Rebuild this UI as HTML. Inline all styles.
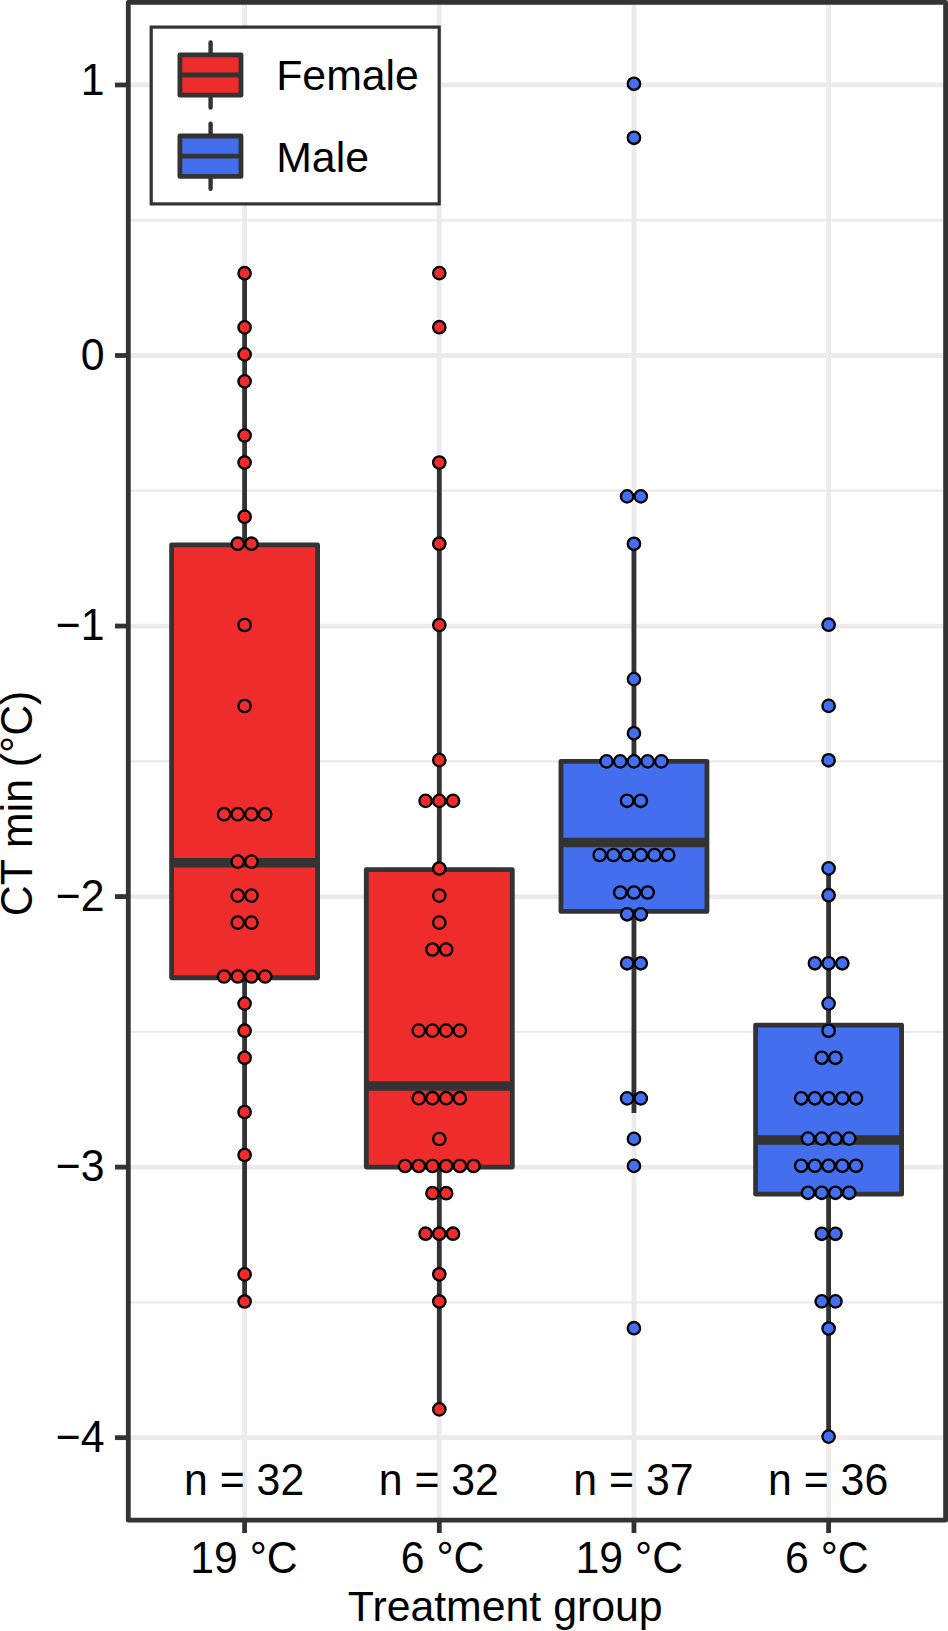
<!DOCTYPE html><html><head><meta charset="utf-8"><style>html,body{margin:0;padding:0;background:#fff;}svg{display:block;}text{font-family:"Liberation Sans",Arial,sans-serif;fill:#000;}</style></head><body>
<svg width="948" height="1631" viewBox="0 0 948 1631">
<rect x="0" y="0" width="948" height="1631" fill="#fff"/>
<line x1="128.3" x2="945.6" y1="220.23" y2="220.23" stroke="#EBEBEB" stroke-width="2.4"/>
<line x1="128.3" x2="945.6" y1="490.77" y2="490.77" stroke="#EBEBEB" stroke-width="2.4"/>
<line x1="128.3" x2="945.6" y1="761.31" y2="761.31" stroke="#EBEBEB" stroke-width="2.4"/>
<line x1="128.3" x2="945.6" y1="1031.85" y2="1031.85" stroke="#EBEBEB" stroke-width="2.4"/>
<line x1="128.3" x2="945.6" y1="1302.39" y2="1302.39" stroke="#EBEBEB" stroke-width="2.4"/>
<line x1="128.3" x2="945.6" y1="84.96" y2="84.96" stroke="#EBEBEB" stroke-width="4.8"/>
<line x1="128.3" x2="945.6" y1="355.50" y2="355.50" stroke="#EBEBEB" stroke-width="4.8"/>
<line x1="128.3" x2="945.6" y1="626.04" y2="626.04" stroke="#EBEBEB" stroke-width="4.8"/>
<line x1="128.3" x2="945.6" y1="896.58" y2="896.58" stroke="#EBEBEB" stroke-width="4.8"/>
<line x1="128.3" x2="945.6" y1="1167.12" y2="1167.12" stroke="#EBEBEB" stroke-width="4.8"/>
<line x1="128.3" x2="945.6" y1="1437.66" y2="1437.66" stroke="#EBEBEB" stroke-width="4.8"/>
<line x1="244.6" x2="244.6" y1="2.4" y2="1520.2" stroke="#EBEBEB" stroke-width="4.8"/>
<line x1="439.3" x2="439.3" y1="2.4" y2="1520.2" stroke="#EBEBEB" stroke-width="4.8"/>
<line x1="633.95" x2="633.95" y1="2.4" y2="1520.2" stroke="#EBEBEB" stroke-width="4.8"/>
<line x1="828.6" x2="828.6" y1="2.4" y2="1520.2" stroke="#EBEBEB" stroke-width="4.8"/>
<line x1="244.6" x2="244.6" y1="274.34" y2="544.88" stroke="#333333" stroke-width="4.8"/>
<line x1="244.6" x2="244.6" y1="977.74" y2="1302.39" stroke="#333333" stroke-width="4.8"/>
<rect x="171.60" y="544.88" width="146.00" height="432.86" fill="#EE2C2C" stroke="#333333" stroke-width="4.8" stroke-linejoin="round"/>
<line x1="171.60" x2="317.60" y1="862.76" y2="862.76" stroke="#333333" stroke-width="9.6"/>
<line x1="439.3" x2="439.3" y1="463.72" y2="869.53" stroke="#333333" stroke-width="4.8"/>
<line x1="439.3" x2="439.3" y1="1167.12" y2="1410.61" stroke="#333333" stroke-width="4.8"/>
<rect x="366.30" y="869.53" width="146.00" height="297.59" fill="#EE2C2C" stroke="#333333" stroke-width="4.8" stroke-linejoin="round"/>
<line x1="366.30" x2="512.30" y1="1085.96" y2="1085.96" stroke="#333333" stroke-width="9.6"/>
<line x1="633.95" x2="633.95" y1="544.88" y2="761.31" stroke="#333333" stroke-width="4.8"/>
<line x1="633.95" x2="633.95" y1="911.46" y2="1113.01" stroke="#333333" stroke-width="4.8"/>
<rect x="560.95" y="761.31" width="146.00" height="150.15" fill="#436EEE" stroke="#333333" stroke-width="4.8" stroke-linejoin="round"/>
<line x1="560.95" x2="706.95" y1="842.47" y2="842.47" stroke="#333333" stroke-width="9.6"/>
<line x1="828.6" x2="828.6" y1="869.53" y2="1025.09" stroke="#333333" stroke-width="4.8"/>
<line x1="828.6" x2="828.6" y1="1194.17" y2="1437.66" stroke="#333333" stroke-width="4.8"/>
<rect x="755.60" y="1025.09" width="146.00" height="169.09" fill="#436EEE" stroke="#333333" stroke-width="4.8" stroke-linejoin="round"/>
<line x1="755.60" x2="901.60" y1="1140.07" y2="1140.07" stroke="#333333" stroke-width="9.6"/>
<circle cx="244.60" cy="273.20" r="6.2" fill="#EE2C2C" stroke="#000" stroke-width="2.3"/>
<circle cx="244.60" cy="327.40" r="6.2" fill="#EE2C2C" stroke="#000" stroke-width="2.3"/>
<circle cx="244.60" cy="354.40" r="6.2" fill="#EE2C2C" stroke="#000" stroke-width="2.3"/>
<circle cx="244.60" cy="381.40" r="6.2" fill="#EE2C2C" stroke="#000" stroke-width="2.3"/>
<circle cx="244.60" cy="435.50" r="6.2" fill="#EE2C2C" stroke="#000" stroke-width="2.3"/>
<circle cx="244.60" cy="462.50" r="6.2" fill="#EE2C2C" stroke="#000" stroke-width="2.3"/>
<circle cx="244.60" cy="516.70" r="6.2" fill="#EE2C2C" stroke="#000" stroke-width="2.3"/>
<circle cx="237.75" cy="543.70" r="6.2" fill="#EE2C2C" stroke="#000" stroke-width="2.3"/>
<circle cx="251.45" cy="543.70" r="6.2" fill="#EE2C2C" stroke="#000" stroke-width="2.3"/>
<circle cx="244.60" cy="625.00" r="6.2" fill="#EE2C2C" stroke="#000" stroke-width="2.3"/>
<circle cx="244.60" cy="706.00" r="6.2" fill="#EE2C2C" stroke="#000" stroke-width="2.3"/>
<circle cx="224.05" cy="814.20" r="6.2" fill="#EE2C2C" stroke="#000" stroke-width="2.3"/>
<circle cx="237.75" cy="814.20" r="6.2" fill="#EE2C2C" stroke="#000" stroke-width="2.3"/>
<circle cx="251.45" cy="814.20" r="6.2" fill="#EE2C2C" stroke="#000" stroke-width="2.3"/>
<circle cx="265.15" cy="814.20" r="6.2" fill="#EE2C2C" stroke="#000" stroke-width="2.3"/>
<circle cx="237.75" cy="861.60" r="6.2" fill="#EE2C2C" stroke="#000" stroke-width="2.3"/>
<circle cx="251.45" cy="861.60" r="6.2" fill="#EE2C2C" stroke="#000" stroke-width="2.3"/>
<circle cx="237.75" cy="895.60" r="6.2" fill="#EE2C2C" stroke="#000" stroke-width="2.3"/>
<circle cx="251.45" cy="895.60" r="6.2" fill="#EE2C2C" stroke="#000" stroke-width="2.3"/>
<circle cx="237.75" cy="922.60" r="6.2" fill="#EE2C2C" stroke="#000" stroke-width="2.3"/>
<circle cx="251.45" cy="922.60" r="6.2" fill="#EE2C2C" stroke="#000" stroke-width="2.3"/>
<circle cx="224.05" cy="976.50" r="6.2" fill="#EE2C2C" stroke="#000" stroke-width="2.3"/>
<circle cx="237.75" cy="976.50" r="6.2" fill="#EE2C2C" stroke="#000" stroke-width="2.3"/>
<circle cx="251.45" cy="976.50" r="6.2" fill="#EE2C2C" stroke="#000" stroke-width="2.3"/>
<circle cx="265.15" cy="976.50" r="6.2" fill="#EE2C2C" stroke="#000" stroke-width="2.3"/>
<circle cx="244.60" cy="1003.60" r="6.2" fill="#EE2C2C" stroke="#000" stroke-width="2.3"/>
<circle cx="244.60" cy="1030.70" r="6.2" fill="#EE2C2C" stroke="#000" stroke-width="2.3"/>
<circle cx="244.60" cy="1057.80" r="6.2" fill="#EE2C2C" stroke="#000" stroke-width="2.3"/>
<circle cx="244.60" cy="1112.00" r="6.2" fill="#EE2C2C" stroke="#000" stroke-width="2.3"/>
<circle cx="244.60" cy="1155.00" r="6.2" fill="#EE2C2C" stroke="#000" stroke-width="2.3"/>
<circle cx="244.60" cy="1274.40" r="6.2" fill="#EE2C2C" stroke="#000" stroke-width="2.3"/>
<circle cx="244.60" cy="1301.50" r="6.2" fill="#EE2C2C" stroke="#000" stroke-width="2.3"/>
<circle cx="439.30" cy="273.10" r="6.2" fill="#EE2C2C" stroke="#000" stroke-width="2.3"/>
<circle cx="439.30" cy="327.20" r="6.2" fill="#EE2C2C" stroke="#000" stroke-width="2.3"/>
<circle cx="439.30" cy="462.50" r="6.2" fill="#EE2C2C" stroke="#000" stroke-width="2.3"/>
<circle cx="439.30" cy="543.70" r="6.2" fill="#EE2C2C" stroke="#000" stroke-width="2.3"/>
<circle cx="439.30" cy="625.00" r="6.2" fill="#EE2C2C" stroke="#000" stroke-width="2.3"/>
<circle cx="439.30" cy="760.10" r="6.2" fill="#EE2C2C" stroke="#000" stroke-width="2.3"/>
<circle cx="425.60" cy="800.90" r="6.2" fill="#EE2C2C" stroke="#000" stroke-width="2.3"/>
<circle cx="439.30" cy="800.90" r="6.2" fill="#EE2C2C" stroke="#000" stroke-width="2.3"/>
<circle cx="453.00" cy="800.90" r="6.2" fill="#EE2C2C" stroke="#000" stroke-width="2.3"/>
<circle cx="439.30" cy="868.50" r="6.2" fill="#EE2C2C" stroke="#000" stroke-width="2.3"/>
<circle cx="439.30" cy="895.60" r="6.2" fill="#EE2C2C" stroke="#000" stroke-width="2.3"/>
<circle cx="439.30" cy="922.60" r="6.2" fill="#EE2C2C" stroke="#000" stroke-width="2.3"/>
<circle cx="432.45" cy="949.50" r="6.2" fill="#EE2C2C" stroke="#000" stroke-width="2.3"/>
<circle cx="446.15" cy="949.50" r="6.2" fill="#EE2C2C" stroke="#000" stroke-width="2.3"/>
<circle cx="418.75" cy="1030.60" r="6.2" fill="#EE2C2C" stroke="#000" stroke-width="2.3"/>
<circle cx="432.45" cy="1030.60" r="6.2" fill="#EE2C2C" stroke="#000" stroke-width="2.3"/>
<circle cx="446.15" cy="1030.60" r="6.2" fill="#EE2C2C" stroke="#000" stroke-width="2.3"/>
<circle cx="459.85" cy="1030.60" r="6.2" fill="#EE2C2C" stroke="#000" stroke-width="2.3"/>
<circle cx="418.75" cy="1098.20" r="6.2" fill="#EE2C2C" stroke="#000" stroke-width="2.3"/>
<circle cx="432.45" cy="1098.20" r="6.2" fill="#EE2C2C" stroke="#000" stroke-width="2.3"/>
<circle cx="446.15" cy="1098.20" r="6.2" fill="#EE2C2C" stroke="#000" stroke-width="2.3"/>
<circle cx="459.85" cy="1098.20" r="6.2" fill="#EE2C2C" stroke="#000" stroke-width="2.3"/>
<circle cx="439.30" cy="1139.00" r="6.2" fill="#EE2C2C" stroke="#000" stroke-width="2.3"/>
<circle cx="405.05" cy="1166.00" r="6.2" fill="#EE2C2C" stroke="#000" stroke-width="2.3"/>
<circle cx="418.75" cy="1166.00" r="6.2" fill="#EE2C2C" stroke="#000" stroke-width="2.3"/>
<circle cx="432.45" cy="1166.00" r="6.2" fill="#EE2C2C" stroke="#000" stroke-width="2.3"/>
<circle cx="446.15" cy="1166.00" r="6.2" fill="#EE2C2C" stroke="#000" stroke-width="2.3"/>
<circle cx="459.85" cy="1166.00" r="6.2" fill="#EE2C2C" stroke="#000" stroke-width="2.3"/>
<circle cx="473.55" cy="1166.00" r="6.2" fill="#EE2C2C" stroke="#000" stroke-width="2.3"/>
<circle cx="432.45" cy="1193.20" r="6.2" fill="#EE2C2C" stroke="#000" stroke-width="2.3"/>
<circle cx="446.15" cy="1193.20" r="6.2" fill="#EE2C2C" stroke="#000" stroke-width="2.3"/>
<circle cx="425.60" cy="1233.70" r="6.2" fill="#EE2C2C" stroke="#000" stroke-width="2.3"/>
<circle cx="439.30" cy="1233.70" r="6.2" fill="#EE2C2C" stroke="#000" stroke-width="2.3"/>
<circle cx="453.00" cy="1233.70" r="6.2" fill="#EE2C2C" stroke="#000" stroke-width="2.3"/>
<circle cx="439.30" cy="1274.30" r="6.2" fill="#EE2C2C" stroke="#000" stroke-width="2.3"/>
<circle cx="439.30" cy="1301.50" r="6.2" fill="#EE2C2C" stroke="#000" stroke-width="2.3"/>
<circle cx="439.30" cy="1409.40" r="6.2" fill="#EE2C2C" stroke="#000" stroke-width="2.3"/>
<circle cx="633.95" cy="83.80" r="6.2" fill="#436EEE" stroke="#000" stroke-width="2.3"/>
<circle cx="633.95" cy="137.80" r="6.2" fill="#436EEE" stroke="#000" stroke-width="2.3"/>
<circle cx="627.10" cy="496.40" r="6.2" fill="#436EEE" stroke="#000" stroke-width="2.3"/>
<circle cx="640.80" cy="496.40" r="6.2" fill="#436EEE" stroke="#000" stroke-width="2.3"/>
<circle cx="633.95" cy="543.80" r="6.2" fill="#436EEE" stroke="#000" stroke-width="2.3"/>
<circle cx="633.95" cy="679.10" r="6.2" fill="#436EEE" stroke="#000" stroke-width="2.3"/>
<circle cx="633.95" cy="733.30" r="6.2" fill="#436EEE" stroke="#000" stroke-width="2.3"/>
<circle cx="606.55" cy="761.40" r="6.2" fill="#436EEE" stroke="#000" stroke-width="2.3"/>
<circle cx="620.25" cy="761.40" r="6.2" fill="#436EEE" stroke="#000" stroke-width="2.3"/>
<circle cx="633.95" cy="761.40" r="6.2" fill="#436EEE" stroke="#000" stroke-width="2.3"/>
<circle cx="647.65" cy="761.40" r="6.2" fill="#436EEE" stroke="#000" stroke-width="2.3"/>
<circle cx="661.35" cy="761.40" r="6.2" fill="#436EEE" stroke="#000" stroke-width="2.3"/>
<circle cx="627.10" cy="800.80" r="6.2" fill="#436EEE" stroke="#000" stroke-width="2.3"/>
<circle cx="640.80" cy="800.80" r="6.2" fill="#436EEE" stroke="#000" stroke-width="2.3"/>
<circle cx="599.70" cy="855.00" r="6.2" fill="#436EEE" stroke="#000" stroke-width="2.3"/>
<circle cx="613.40" cy="855.00" r="6.2" fill="#436EEE" stroke="#000" stroke-width="2.3"/>
<circle cx="627.10" cy="855.00" r="6.2" fill="#436EEE" stroke="#000" stroke-width="2.3"/>
<circle cx="640.80" cy="855.00" r="6.2" fill="#436EEE" stroke="#000" stroke-width="2.3"/>
<circle cx="654.50" cy="855.00" r="6.2" fill="#436EEE" stroke="#000" stroke-width="2.3"/>
<circle cx="668.20" cy="855.00" r="6.2" fill="#436EEE" stroke="#000" stroke-width="2.3"/>
<circle cx="620.25" cy="892.50" r="6.2" fill="#436EEE" stroke="#000" stroke-width="2.3"/>
<circle cx="633.95" cy="892.50" r="6.2" fill="#436EEE" stroke="#000" stroke-width="2.3"/>
<circle cx="647.65" cy="892.50" r="6.2" fill="#436EEE" stroke="#000" stroke-width="2.3"/>
<circle cx="627.10" cy="914.30" r="6.2" fill="#436EEE" stroke="#000" stroke-width="2.3"/>
<circle cx="640.80" cy="914.30" r="6.2" fill="#436EEE" stroke="#000" stroke-width="2.3"/>
<circle cx="627.10" cy="963.30" r="6.2" fill="#436EEE" stroke="#000" stroke-width="2.3"/>
<circle cx="640.80" cy="963.30" r="6.2" fill="#436EEE" stroke="#000" stroke-width="2.3"/>
<circle cx="627.10" cy="1098.40" r="6.2" fill="#436EEE" stroke="#000" stroke-width="2.3"/>
<circle cx="640.80" cy="1098.40" r="6.2" fill="#436EEE" stroke="#000" stroke-width="2.3"/>
<circle cx="633.95" cy="1138.90" r="6.2" fill="#436EEE" stroke="#000" stroke-width="2.3"/>
<circle cx="633.95" cy="1165.90" r="6.2" fill="#436EEE" stroke="#000" stroke-width="2.3"/>
<circle cx="633.95" cy="1328.20" r="6.2" fill="#436EEE" stroke="#000" stroke-width="2.3"/>
<circle cx="828.60" cy="624.70" r="6.2" fill="#436EEE" stroke="#000" stroke-width="2.3"/>
<circle cx="828.60" cy="705.90" r="6.2" fill="#436EEE" stroke="#000" stroke-width="2.3"/>
<circle cx="828.60" cy="760.30" r="6.2" fill="#436EEE" stroke="#000" stroke-width="2.3"/>
<circle cx="828.60" cy="868.40" r="6.2" fill="#436EEE" stroke="#000" stroke-width="2.3"/>
<circle cx="828.60" cy="895.20" r="6.2" fill="#436EEE" stroke="#000" stroke-width="2.3"/>
<circle cx="814.90" cy="963.30" r="6.2" fill="#436EEE" stroke="#000" stroke-width="2.3"/>
<circle cx="828.60" cy="963.30" r="6.2" fill="#436EEE" stroke="#000" stroke-width="2.3"/>
<circle cx="842.30" cy="963.30" r="6.2" fill="#436EEE" stroke="#000" stroke-width="2.3"/>
<circle cx="828.60" cy="1003.60" r="6.2" fill="#436EEE" stroke="#000" stroke-width="2.3"/>
<circle cx="828.60" cy="1030.80" r="6.2" fill="#436EEE" stroke="#000" stroke-width="2.3"/>
<circle cx="821.75" cy="1057.80" r="6.2" fill="#436EEE" stroke="#000" stroke-width="2.3"/>
<circle cx="835.45" cy="1057.80" r="6.2" fill="#436EEE" stroke="#000" stroke-width="2.3"/>
<circle cx="801.20" cy="1098.30" r="6.2" fill="#436EEE" stroke="#000" stroke-width="2.3"/>
<circle cx="814.90" cy="1098.30" r="6.2" fill="#436EEE" stroke="#000" stroke-width="2.3"/>
<circle cx="828.60" cy="1098.30" r="6.2" fill="#436EEE" stroke="#000" stroke-width="2.3"/>
<circle cx="842.30" cy="1098.30" r="6.2" fill="#436EEE" stroke="#000" stroke-width="2.3"/>
<circle cx="856.00" cy="1098.30" r="6.2" fill="#436EEE" stroke="#000" stroke-width="2.3"/>
<circle cx="808.05" cy="1138.60" r="6.2" fill="#436EEE" stroke="#000" stroke-width="2.3"/>
<circle cx="821.75" cy="1138.60" r="6.2" fill="#436EEE" stroke="#000" stroke-width="2.3"/>
<circle cx="835.45" cy="1138.60" r="6.2" fill="#436EEE" stroke="#000" stroke-width="2.3"/>
<circle cx="849.15" cy="1138.60" r="6.2" fill="#436EEE" stroke="#000" stroke-width="2.3"/>
<circle cx="801.20" cy="1165.80" r="6.2" fill="#436EEE" stroke="#000" stroke-width="2.3"/>
<circle cx="814.90" cy="1165.80" r="6.2" fill="#436EEE" stroke="#000" stroke-width="2.3"/>
<circle cx="828.60" cy="1165.80" r="6.2" fill="#436EEE" stroke="#000" stroke-width="2.3"/>
<circle cx="842.30" cy="1165.80" r="6.2" fill="#436EEE" stroke="#000" stroke-width="2.3"/>
<circle cx="856.00" cy="1165.80" r="6.2" fill="#436EEE" stroke="#000" stroke-width="2.3"/>
<circle cx="808.05" cy="1192.80" r="6.2" fill="#436EEE" stroke="#000" stroke-width="2.3"/>
<circle cx="821.75" cy="1192.80" r="6.2" fill="#436EEE" stroke="#000" stroke-width="2.3"/>
<circle cx="835.45" cy="1192.80" r="6.2" fill="#436EEE" stroke="#000" stroke-width="2.3"/>
<circle cx="849.15" cy="1192.80" r="6.2" fill="#436EEE" stroke="#000" stroke-width="2.3"/>
<circle cx="821.75" cy="1233.80" r="6.2" fill="#436EEE" stroke="#000" stroke-width="2.3"/>
<circle cx="835.45" cy="1233.80" r="6.2" fill="#436EEE" stroke="#000" stroke-width="2.3"/>
<circle cx="821.75" cy="1301.40" r="6.2" fill="#436EEE" stroke="#000" stroke-width="2.3"/>
<circle cx="835.45" cy="1301.40" r="6.2" fill="#436EEE" stroke="#000" stroke-width="2.3"/>
<circle cx="828.60" cy="1328.50" r="6.2" fill="#436EEE" stroke="#000" stroke-width="2.3"/>
<circle cx="828.60" cy="1436.60" r="6.2" fill="#436EEE" stroke="#000" stroke-width="2.3"/>
<text transform="translate(244.10 1495.30) scale(1 1.035)" font-size="42.8" text-anchor="middle">n = 32</text>
<text transform="translate(438.80 1495.30) scale(1 1.035)" font-size="42.8" text-anchor="middle">n = 32</text>
<text transform="translate(633.45 1495.30) scale(1 1.035)" font-size="42.8" text-anchor="middle">n = 37</text>
<text transform="translate(828.10 1495.30) scale(1 1.035)" font-size="42.8" text-anchor="middle">n = 36</text>
<rect x="151.2" y="27.1" width="288" height="176.8" fill="#fff" stroke="#333333" stroke-width="3.2"/>
<line x1="210.6" x2="210.6" y1="42.5" y2="107.5" stroke="#333333" stroke-width="4.4" stroke-linecap="round"/>
<rect x="179.9" y="54.8" width="61.1" height="40.4" fill="#EE2C2C" stroke="#333333" stroke-width="4.8" stroke-linejoin="round"/>
<line x1="179.9" x2="241" y1="75.0" y2="75.0" stroke="#333333" stroke-width="4.8"/>
<text transform="translate(276.20 90.40) scale(1 1.01)" font-size="42.8">Female</text>
<line x1="210.6" x2="210.6" y1="123.7" y2="188.7" stroke="#333333" stroke-width="4.4" stroke-linecap="round"/>
<rect x="179.9" y="136.0" width="61.1" height="40.4" fill="#436EEE" stroke="#333333" stroke-width="4.8" stroke-linejoin="round"/>
<line x1="179.9" x2="241" y1="156.2" y2="156.2" stroke="#333333" stroke-width="4.8"/>
<text transform="translate(276.20 171.60) scale(1 1.01)" font-size="42.8">Male</text>
<rect x="128.3" y="2.4" width="817.30" height="1517.80" fill="none" stroke="#333333" stroke-width="4.8" stroke-linejoin="round"/>
<line x1="115" x2="128.3" y1="84.96" y2="84.96" stroke="#333333" stroke-width="4.8"/>
<text transform="translate(104.50 94.70) scale(1 1.035)" font-size="42.8" text-anchor="end">1</text>
<line x1="115" x2="128.3" y1="355.50" y2="355.50" stroke="#333333" stroke-width="4.8"/>
<text transform="translate(104.50 369.50) scale(1 1.035)" font-size="42.8" text-anchor="end">0</text>
<line x1="115" x2="128.3" y1="626.04" y2="626.04" stroke="#333333" stroke-width="4.8"/>
<text transform="translate(104.50 640.04) scale(1 1.035)" font-size="42.8" text-anchor="end">−1</text>
<line x1="115" x2="128.3" y1="896.58" y2="896.58" stroke="#333333" stroke-width="4.8"/>
<text transform="translate(104.50 910.58) scale(1 1.035)" font-size="42.8" text-anchor="end">−2</text>
<line x1="115" x2="128.3" y1="1167.12" y2="1167.12" stroke="#333333" stroke-width="4.8"/>
<text transform="translate(104.50 1181.12) scale(1 1.035)" font-size="42.8" text-anchor="end">−3</text>
<line x1="115" x2="128.3" y1="1437.66" y2="1437.66" stroke="#333333" stroke-width="4.8"/>
<text transform="translate(104.50 1451.66) scale(1 1.035)" font-size="42.8" text-anchor="end">−4</text>
<line x1="244.6" x2="244.6" y1="1520.2" y2="1533" stroke="#333333" stroke-width="4.8"/>
<line x1="439.3" x2="439.3" y1="1520.2" y2="1533" stroke="#333333" stroke-width="4.8"/>
<line x1="633.95" x2="633.95" y1="1520.2" y2="1533" stroke="#333333" stroke-width="4.8"/>
<line x1="828.6" x2="828.6" y1="1520.2" y2="1533" stroke="#333333" stroke-width="4.8"/>
<text transform="translate(244.00 1572.80) scale(1 1.035)" font-size="42.8" text-anchor="middle">19 °C</text>
<text transform="translate(442.60 1572.80) scale(1 1.035)" font-size="42.8" text-anchor="middle">6 °C</text>
<text transform="translate(629.30 1572.80) scale(1 1.035)" font-size="42.8" text-anchor="middle">19 °C</text>
<text transform="translate(826.80 1572.80) scale(1 1.035)" font-size="42.8" text-anchor="middle">6 °C</text>
<text transform="translate(505.20 1620.90) scale(1 1.01)" font-size="42.8" text-anchor="middle">Treatment group</text>
<text transform="translate(31.60 803.40) rotate(-90) scale(1 1.02)" font-size="42.8" text-anchor="middle">CT min (°C)</text>
</svg></body></html>
